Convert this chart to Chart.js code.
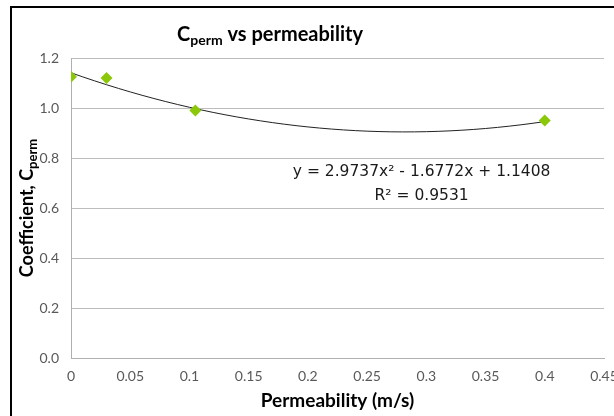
<!DOCTYPE html>
<html>
<head>
<meta charset="utf-8">
<script src="https://cdn.jsdelivr.net/npm/chart.js@4/dist/chart.umd.min.js"></script>
<style>
  html, body { margin: 0; padding: 0; background: #fff; overflow: hidden; }
  #wrap { width: 614px; height: 416px; }
</style>
</head>
<body>
<div id="wrap"><canvas id="grafico"></canvas></div>
<script>
// datos
const permeability = [0, 0.03, 0.105, 0.4];
const cperm = [1.125, 1.12, 0.99, 0.95];
// coeficientes de la linea de tendencia (c0, c1, c2) segun la ecuacion mostrada
const trendCoef = [1.1408, -1.6772, 2.9737];
const trendRange = [0, 0.4];
const equationText = "y = 2.9737x\u00B2 - 1.6772x + 1.1408";
const r2Text = "R\u00B2 = 0.9531";

const FONT = "Lato, 'Open Sans', sans-serif";

function trendPoints() {
    let pts = [];
    for (let i = 0; i <= 40; i++) {
        let x = trendRange[0] + (trendRange[1] - trendRange[0]) * i / 40;
        pts.push({ x: x, y: trendCoef[0] + trendCoef[1] * x + trendCoef[2] * x * x });
    }
    return pts;
}

const decor = {
    id: "decor",
    beforeDraw(chart) {
        let ctx = chart.ctx;
        ctx.save();
        ctx.fillStyle = "#fff";
        ctx.fillRect(0, 0, chart.width, chart.height);
        ctx.strokeStyle = "#000";
        ctx.lineWidth = 2;
        ctx.beginPath();
        ctx.moveTo(11, 450);
        ctx.lineTo(11, 7);
        ctx.lineTo(700, 7);
        ctx.stroke();
        ctx.restore();
    },
    afterDraw(chart) {
        let ctx = chart.ctx;
        let xs = chart.scales.x, ys = chart.scales.y;
        ctx.save();
        ctx.fillStyle = "#000";
        ctx.textBaseline = "alphabetic";

        // titulo
        let ts = 20;
        let title2 = " vs permeability";
        ctx.font = "bold " + ts + "px " + FONT;
        let wc = ctx.measureText("C").width;
        let wt = ctx.measureText(title2).width;
        ctx.font = "bold 14px " + FONT;
        let wp = ctx.measureText("perm").width;
        let tx = 270 - (wc + wp + wt) / 2;
        let ty = 41;
        ctx.textAlign = "left";
        ctx.font = "bold " + ts + "px " + FONT;
        ctx.fillText("C", tx, ty);
        ctx.font = "bold 14px " + FONT;
        ctx.fillText("perm", tx + wc, ty + 4);
        ctx.font = "bold " + ts + "px " + FONT;
        ctx.fillText(title2, tx + wc + wp, ty);

        // titulo eje y
        let ys1 = 18;
        let main = "Coefficient, C";
        ctx.font = "bold " + ys1 + "px " + FONT;
        let wm = ctx.measureText(main).width;
        ctx.font = "bold 13px " + FONT;
        let ws = ctx.measureText("perm").width;
        ctx.translate(33, (chart.chartArea.top + chart.chartArea.bottom) / 2);
        ctx.rotate(-Math.PI / 2);
        let sx = -(wm + ws) / 2;
        ctx.font = "bold " + ys1 + "px " + FONT;
        ctx.fillText(main, sx, 0);
        ctx.font = "bold 13px " + FONT;
        ctx.fillText("perm", sx + wm, 4);
        ctx.restore();

        // ecuacion de la tendencia
        ctx.save();
        ctx.fillStyle = "#1a1a1a";
        ctx.font = "15.5px 'DejaVu Sans', sans-serif";
        ctx.textAlign = "center";
        ctx.textBaseline = "middle";
        let ex = xs.getPixelForValue(0.296);
        ctx.fillText(equationText, ex, ys.getPixelForValue(0.744));
        ctx.fillText(r2Text, ex, ys.getPixelForValue(0.648));
        ctx.restore();
    }
};

new Chart(document.getElementById("grafico").getContext("2d"), {
    type: "scatter",
    data: {
        datasets: [{
            label: "Poly.",
            type: "line",
            data: trendPoints(),
            borderColor: "#222",
            borderWidth: 1,
            pointRadius: 0,
            tension: 0,
            fill: false,
            order: 2
        }, {
            label: "Cperm",
            data: permeability.map((x, i) => ({ x: x, y: cperm[i] })),
            pointStyle: "rectRot",
            pointRadius: 6,
            backgroundColor: "#8cc80a",
            borderColor: "#8cc80a",
            borderWidth: 0,
            order: 1
        }]
    },
    options: {
        responsive: true,
        maintainAspectRatio: false,
        animation: false,
        layout: { padding: { left: 0, top: 58, right: 10, bottom: 0 } },
        plugins: {
            legend: { display: false },
            tooltip: { enabled: false }
        },
        scales: {
            x: {
                type: "linear",
                min: 0,
                max: 0.45,
                ticks: {
                    stepSize: 0.05,
                    color: "#595959",
                    font: { family: FONT, size: 14 },
                    padding: 10,
                    maxRotation: 0,
                    callback: v => String(parseFloat(v.toFixed(2)))
                },
                grid: { display: false, drawTicks: false },
                border: { color: "#b0b0b0" },
                title: {
                    display: true,
                    text: "Permeability (m/s)",
                    color: "#000",
                    font: { family: FONT, size: 19, weight: "bold" },
                    padding: { top: 0 }
                },
                afterFit(scale) {
                    scale.height = 58;
                    scale.paddingLeft = 0;
                    scale.paddingRight = 0;
                }
            },
            y: {
                min: 0,
                max: 1.2,
                ticks: {
                    stepSize: 0.2,
                    color: "#595959",
                    font: { family: FONT, size: 14 },
                    padding: 12,
                    callback: v => v.toFixed(1)
                },
                grid: { color: "#bdbdbd", drawTicks: false },
                border: { color: "#b0b0b0" },
                afterFit(scale) {
                    scale.width = 71;
                    scale.paddingTop = 0;
                    scale.paddingBottom = 0;
                }
            }
        }
    },
    plugins: [decor]
});
</script>
</body>
</html>
